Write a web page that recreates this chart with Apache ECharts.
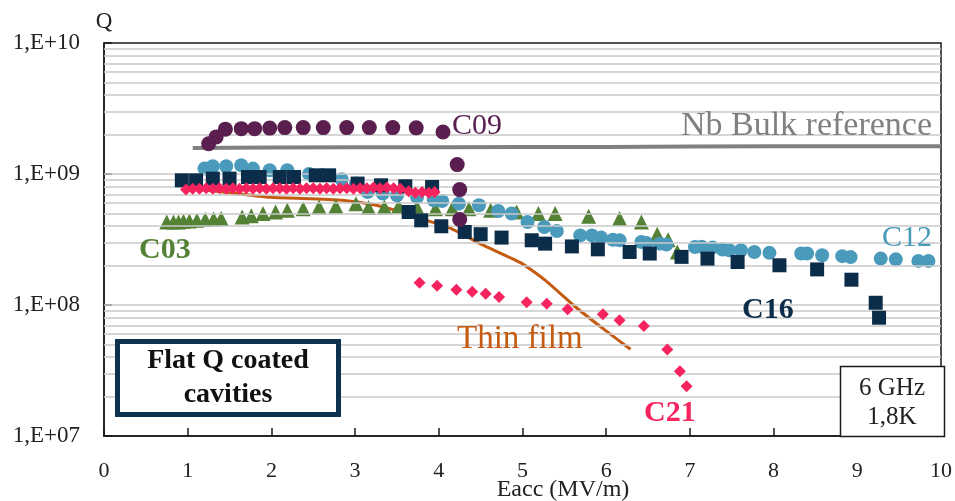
<!DOCTYPE html>
<html>
<head>
<meta charset="utf-8">
<script src="https://cdn.jsdelivr.net/npm/echarts@6/dist/echarts.min.js"></script>
<style>html,body{margin:0;padding:0;background:#fff;}#c{width:955px;height:501px;}</style>
</head>
<body>
<div id="c"></div>
<script>
// ---- data ----
const yTickValues = [1e7, 1e8, 1e9, 1e10];
const yTickLabels = ['1,E+07', '1,E+08', '1,E+09', '1,E+10'];
const xTickLabels = ['0','1','2','3','4','5','6','7','8','9','10'];

const nbX = [1.06, 2, 3, 4, 5, 6, 7, 8, 9, 10];
const nbQ = [1.58e9, 1.59e9, 1.6e9, 1.6e9, 1.61e9, 1.61e9, 1.62e9, 1.63e9, 1.63e9, 1.63e9];

const c09X = [1.25, 1.34, 1.45, 1.64, 1.80, 1.98, 2.16, 2.38, 2.62, 2.90, 3.17, 3.45, 3.73, 4.05, 4.22, 4.25, 4.25];
const c09Q = [1.7e9, 1.92e9, 2.2e9, 2.22e9, 2.22e9, 2.24e9, 2.26e9, 2.26e9, 2.26e9, 2.26e9, 2.26e9, 2.26e9, 2.25e9, 2.09e9, 1.18e9, 0.76e9, 0.45e9];

const c12X = [1.20, 1.30, 1.46, 1.64, 1.78, 1.98, 2.19, 2.45, 2.61, 2.84, 3.01, 3.15, 3.33, 3.50, 3.74, 3.94, 4.04, 4.24, 4.48, 4.71, 4.87, 5.06, 5.26, 5.41, 5.69, 5.83, 5.94, 6.08, 6.16, 6.42, 6.48, 6.64, 6.72, 7.06, 7.14, 7.27, 7.39, 7.47, 7.61, 7.77, 7.95, 8.33, 8.40, 8.58, 8.82, 8.92, 9.28, 9.46, 9.73, 9.85];
const c12Q = [1.10e9, 1.145e9, 1.145e9, 1.165e9, 1.10e9, 1.067e9, 1.067e9, 1.0e9, 0.977e9, 0.91e9, 0.845e9, 0.729e9, 0.709e9, 0.688e9, 0.667e9, 0.63e9, 0.622e9, 0.594e9, 0.577e9, 0.522e9, 0.499e9, 0.43e9, 0.394e9, 0.367e9, 0.34e9, 0.34e9, 0.327e9, 0.315e9, 0.312e9, 0.303e9, 0.298e9, 0.294e9, 0.29e9, 0.277e9, 0.279e9, 0.275e9, 0.265e9, 0.262e9, 0.262e9, 0.254e9, 0.25e9, 0.247e9, 0.247e9, 0.24e9, 0.236e9, 0.232e9, 0.226e9, 0.223e9, 0.217e9, 0.217e9];

const c16X = [0.93, 1.10, 1.30, 1.50, 1.72, 1.86, 2.10, 2.27, 2.53, 2.69, 3.03, 3.31, 3.60, 3.92, 3.64, 3.79, 4.03, 4.31, 4.50, 4.75, 5.11, 5.27, 5.59, 5.90, 6.28, 6.52, 6.90, 7.21, 7.57, 8.07, 8.52, 8.93, 9.22, 9.26];
const c16Q = [0.895e9, 0.895e9, 0.922e9, 0.922e9, 0.949e9, 0.949e9, 0.949e9, 0.949e9, 0.977e9, 0.977e9, 0.845e9, 0.82e9, 0.806e9, 0.796e9, 0.513e9, 0.443e9, 0.399e9, 0.361e9, 0.347e9, 0.327e9, 0.312e9, 0.294e9, 0.28e9, 0.266e9, 0.254e9, 0.247e9, 0.233e9, 0.226e9, 0.213e9, 0.201e9, 0.187e9, 0.156e9, 0.104e9, 0.08e9];

const c21X = [0.98, 1.06, 1.14, 1.22, 1.30, 1.38, 1.46, 1.54, 1.62, 1.70, 1.78, 1.86, 1.94, 2.02, 2.10, 2.18, 2.26, 2.34, 2.42, 2.50, 2.58, 2.66, 2.74, 2.82, 2.90, 2.98, 3.06, 3.14, 3.22, 3.30, 3.38, 3.46, 3.54, 3.64, 3.72, 3.80, 3.88, 3.95,
              3.77, 3.98, 4.21, 4.40, 4.56, 4.72, 5.05, 5.29, 5.54, 5.96, 6.16, 6.45, 6.73, 6.88, 6.96];
const c21Q = [0.76e9, 0.77e9, 0.77e9, 0.78e9, 0.77e9, 0.78e9, 0.77e9, 0.78e9, 0.77e9, 0.78e9, 0.77e9, 0.78e9, 0.77e9, 0.78e9, 0.78e9, 0.77e9, 0.78e9, 0.77e9, 0.78e9, 0.78e9, 0.77e9, 0.78e9, 0.77e9, 0.78e9, 0.78e9, 0.77e9, 0.78e9, 0.78e9, 0.79e9, 0.78e9, 0.79e9, 0.78e9, 0.77e9, 0.74e9, 0.72e9, 0.73e9, 0.72e9, 0.73e9,
              1.48e8, 1.40e8, 1.31e8, 1.26e8, 1.22e8, 1.15e8, 1.05e8, 1.02e8, 0.927e8, 0.849e8, 0.764e8, 0.691e8, 0.457e8, 0.312e8, 0.24e8];

const c03X = [0.75, 0.83, 0.89, 0.95, 1.02, 1.11, 1.21, 1.31, 1.40, 1.65, 1.76, 1.90, 2.05, 2.19, 2.38, 2.57, 2.77, 3.01, 3.16, 3.35, 3.52, 3.74, 3.96, 4.16, 4.36, 4.62, 4.93, 5.19, 5.39, 5.79, 6.16, 6.42, 6.61, 6.74, 6.85];
const c03Q = [0.431e9, 0.431e9, 0.431e9, 0.435e9, 0.438e9, 0.443e9, 0.449e9, 0.454e9, 0.457e9, 0.47e9, 0.481e9, 0.499e9, 0.513e9, 0.528e9, 0.544e9, 0.56e9, 0.567e9, 0.594e9, 0.554e9, 0.56e9, 0.567e9, 0.554e9, 0.544e9, 0.544e9, 0.544e9, 0.528e9, 0.513e9, 0.499e9, 0.499e9, 0.476e9, 0.457e9, 0.431e9, 0.347e9, 0.315e9, 0.254e9];

const thinX = [0.99, 1.5, 1.98, 2.45, 2.85, 3.25, 3.56, 3.85, 4.12, 4.51, 4.99, 5.27, 5.63, 5.99, 6.29];
const thinQ = [0.78e9, 0.72e9, 0.664e9, 0.648e9, 0.63e9, 0.577e9, 0.51e9, 0.443e9, 0.392e9, 0.29e9, 0.208e9, 0.155e9, 0.97e8, 0.64e8, 0.46e8];

// ---- helpers ----
const zip = (xs, ys) => xs.map((x, i) => [x, ys[i]]);
const FONT = "'Liberation Serif', serif";
const minorGrid = [];
for (let d = 7; d < 10; d++) {
  for (let k = 2; k <= 9; k++) minorGrid.push({ yAxis: k * Math.pow(10, d) });
}
minorGrid.push({ yAxis: 1e8 }, { yAxis: 1e9 });

const chart = echarts.init(document.getElementById('c'), null, { renderer: 'canvas' });

const txt = (text, x, y, color, size, opts) => Object.assign({
  type: 'text', z: 100,
  style: Object.assign({ text: text, x: x, y: y, fill: color, fontSize: size, fontFamily: FONT,
    align: 'left', verticalAlign: 'middle' }, opts || {})
});

chart.setOption({
  animation: false,
  backgroundColor: '#fff',
  grid: { left: 104, right: 11, top: 43, bottom: 65, show: true, borderColor: '#1a1a1a', borderWidth: 1.5, backgroundColor: 'transparent' },
  xAxis: {
    type: 'value', min: 0, max: 10, interval: 1,
    axisLine: { show: true, onZero: false, lineStyle: { color: '#1a1a1a', width: 1.5 } },
    axisTick: { show: true, inside: true, length: 8, lineStyle: { color: '#1a1a1a', width: 1.5 } },
    splitLine: { show: false },
    axisLabel: { margin: 24, fontSize: 22, fontFamily: FONT, color: '#222',
      formatter: v => xTickLabels[Math.round(v)] }
  },
  yAxis: {
    type: 'log', logBase: 10, min: 1e7, max: 1e10,
    axisLine: { show: true, lineStyle: { color: '#1a1a1a', width: 1.5 } },
    axisTick: { show: true, inside: true, length: 8, lineStyle: { color: '#1a1a1a', width: 1.5 } },
    splitLine: { show: false },
    axisLabel: { margin: 24, fontSize: 23, fontFamily: FONT, color: '#222',
      formatter: v => {
        const e = Math.round(Math.log10(v));
        const i = yTickValues.findIndex(t => Math.round(Math.log10(t)) === e);
        return i >= 0 ? yTickLabels[i] : '';
      } }
  },
  series: [
    { name: 'grid', type: 'line', data: [[5, 1e9]], symbol: 'none', lineStyle: { opacity: 0 }, silent: true, z: 0,
      markLine: { silent: true, symbol: 'none', label: { show: false }, animation: false,
        lineStyle: { color: '#c9c9c9', width: 1.5, type: 'solid' }, data: minorGrid } },
    { name: 'Thin film', type: 'line', data: zip(thinX, thinQ), symbol: 'none', smooth: 0.15,
      lineStyle: { color: '#c55a11', width: 3 }, z: 2 },
    { name: 'Nb Bulk reference', type: 'line', data: zip(nbX, nbQ), symbol: 'none',
      lineStyle: { color: '#808080', width: 4 }, z: 2 },
    { name: 'C03', type: 'scatter', data: zip(c03X, c03Q), symbol: 'triangle', symbolSize: 15,
      itemStyle: { color: '#548235', opacity: 1 }, z: 3 },
    { name: 'C12', type: 'scatter', data: zip(c12X, c12Q), symbol: 'circle', symbolSize: 14,
      itemStyle: { color: '#4a9bbb', opacity: 1 }, z: 4 },
    { name: 'C16', type: 'scatter', data: zip(c16X, c16Q), symbol: 'rect', symbolSize: 14,
      itemStyle: { color: '#0c2d4a', opacity: 1 }, z: 5 },
    { name: 'C21', type: 'scatter', data: zip(c21X, c21Q), symbol: 'diamond', symbolSize: 12,
      itemStyle: { color: '#f5245e', opacity: 1 }, z: 6 },
    { name: 'C09', type: 'scatter', data: zip(c09X, c09Q), symbol: 'circle', symbolSize: 15,
      itemStyle: { color: '#5a1f4f', opacity: 1 }, z: 7 }
  ],
  graphic: [
    txt('Q', 104, 22, '#222', 23, { align: 'center' }),
    txt('Eacc (MV/m)', 563, 490, '#222', 24, { align: 'center' }),
    txt('C09', 452, 126, '#5a1f4f', 30),
    txt('Nb Bulk reference', 932, 126, '#808080', 34, { align: 'right' }),
    txt('C12', 882, 238, '#4a9bbb', 30),
    txt('C16', 742, 310, '#0c2d4a', 30, { fontWeight: 'bold' }),
    txt('C21', 644, 413, '#f5245e', 30, { fontWeight: 'bold' }),
    txt('Thin film', 457, 339, '#c55a11', 33),
    txt('C03', 139, 250, '#548235', 30, { fontWeight: 'bold' }),
    { type: 'rect', z: 90, shape: { x: 117.5, y: 341.5, width: 221, height: 73 },
      style: { fill: '#fff', stroke: '#0e3150', lineWidth: 5 } },
    txt('Flat Q coated', 228, 361, '#111', 28, { align: 'center', fontWeight: 'bold' }),
    txt('cavities', 228, 395, '#111', 28, { align: 'center', fontWeight: 'bold' }),
    { type: 'rect', z: 90, shape: { x: 840.5, y: 366.5, width: 104, height: 70 },
      style: { fill: '#fff', stroke: '#1a1a1a', lineWidth: 1.5 } },
    txt('6 GHz', 892, 388, '#222', 25, { align: 'center' }),
    txt('1,8K', 892, 417, '#222', 25, { align: 'center' })
  ]
});
</script>
</body>
</html>
